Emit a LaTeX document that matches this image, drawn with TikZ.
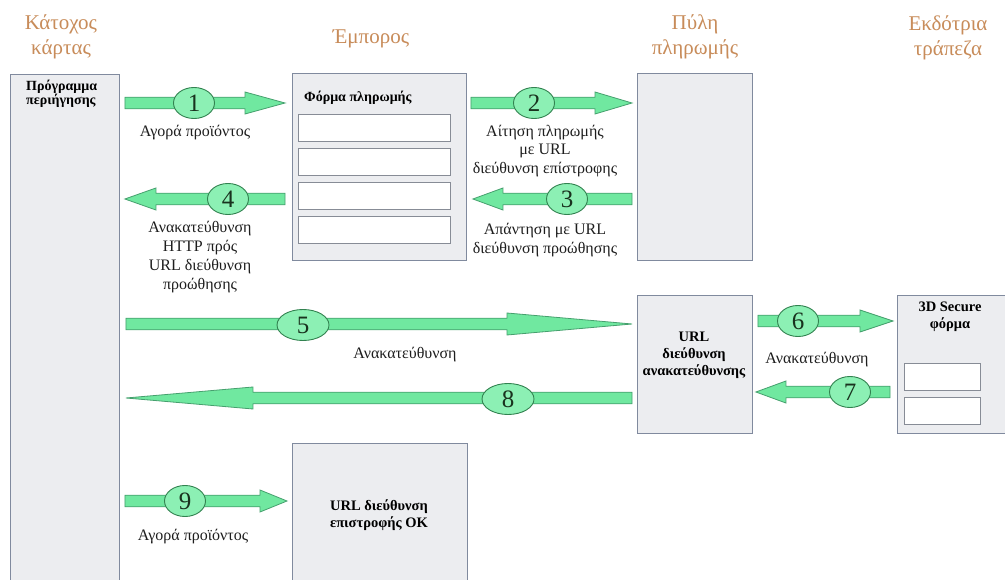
\documentclass[tikz,border=0pt]{standalone}
\usepackage{fontspec}
\setmainfont{Liberation Serif}
\usetikzlibrary{calc,shapes.geometric}

\definecolor{titlecol}{RGB}{200,140,90}
\definecolor{boxfill}{RGB}{236,237,240}
\definecolor{boxline}{RGB}{128,138,158}
\definecolor{fieldline}{RGB}{135,140,150}
\definecolor{flowfill}{RGB}{112,232,160}
\definecolor{flowline}{RGB}{70,160,110}
\definecolor{numfill}{RGB}{140,240,180}
\definecolor{numline}{RGB}{50,130,80}
\definecolor{numtext}{RGB}{25,50,30}
\definecolor{labtext}{RGB}{30,30,30}

\tikzset{
  actor/.style={font=\fontsize{21}{24.5}\selectfont, text=titlecol, align=center, inner sep=0},
  panel/.style={draw=boxline, fill=boxfill, line width=0.9pt, anchor=north west, inner sep=0},
  field/.style={draw=fieldline, fill=white, line width=0.8pt, anchor=north west, inner sep=0},
  boxtext/.style={font=\bfseries\fontsize{14.5}{17}\selectfont, align=center, inner sep=0},
  steptext/.style={font=\fontsize{16}{18.8}\selectfont, text=labtext, align=center, inner sep=0},
  flow/.style={fill=flowfill, draw=flowline, line width=0.8pt, line join=miter},
  num/.style={ellipse, draw=numline, fill=numfill, line width=0.9pt, inner sep=0,
    minimum width=41pt, minimum height=31pt, text=numtext, font=\fontsize{25}{25}\selectfont},
  numwide/.style={num, minimum width=52pt, minimum height=31pt}
}

% block arrow from #1 to #2 with a head of length #3
\newcommand{\flowarrow}[3]{%
  \draw[flow] ($(#1)+(0,-5.8)$) -- ($(#2)!#3pt!(#1)+(0,-5.8)$)
    -- ($(#2)!#3pt!(#1)+(0,-11)$) -- (#2)
    -- ($(#2)!#3pt!(#1)+(0,11)$) -- ($(#2)!#3pt!(#1)+(0,5.8)$)
    -- ($(#1)+(0,5.8)$) -- cycle;}

\begin{document}
\begin{tikzpicture}[x=1pt,y=-1pt]
\useasboundingbox (0,0) rectangle (1005,580);
\clip (0,0) rectangle (1005,580);
\fill[white] (0,0) rectangle (1005,580);

% actors
\node[actor] (tcard) at (61,37) {Κάτοχος\\κάρτας};
\node[actor] (tmerch) at (371,39) {Έμπορος};
\node[actor] (tgate) at (695,37) {Πύλη\\πληρωμής};
\node[actor] (tbank) at (948,38) {Εκδότρια\\τράπεζα};

% panels
\node[panel, minimum width=109pt, minimum height=530pt] (browser) at (10,74) {};
\node[panel, minimum width=174pt, minimum height=187pt] (merchant) at (292,73) {};
\node[panel, minimum width=115pt, minimum height=187pt] (gateway) at (637,73) {};
\node[panel, minimum width=115pt, minimum height=138pt] (redirect) at (637,295) {};
\node[panel, minimum width=120pt, minimum height=138pt] (secure) at (897,295) {};
\node[panel, minimum width=175pt, minimum height=150pt] (okpage) at (292,443) {};

% form fields
\node[field, minimum width=152pt, minimum height=27pt] (f1) at (298,114) {};
\node[field, minimum width=152pt, minimum height=27pt] (f2) at (298,148) {};
\node[field, minimum width=152pt, minimum height=27pt] (f3) at (298,182) {};
\node[field, minimum width=152pt, minimum height=27pt] (f4) at (298,216) {};
\node[field, minimum width=76pt, minimum height=27pt] (s1) at (904,363) {};
\node[field, minimum width=76pt, minimum height=27pt] (s2) at (904,397) {};

% panel captions
\node[boxtext, font=\bfseries\fontsize{14}{13.5}\selectfont, align=left, anchor=north west] (cbrowser) at (26,80) {Πρόγραμμα\\περιήγησης};
\node[boxtext, font=\bfseries\fontsize{14}{17}\selectfont, anchor=west] (cform) at (304,98) {Φόρμα πληρωμής};
\node[boxtext] (credirect) at (694,355) {URL\\διεύθυνση\\ανακατεύθυνσης};
\node[boxtext] (csecure) at (950,317) {3D Secure\\φόρμα};
\node[boxtext] (cok) at (379,515) {URL διεύθυνση\\επιστροφής OK};

% arrow end points
\path (browser.east |- 0,103) ++(5,0) coordinate (a1s);
\path (merchant.west |- 0,103) ++(-7,0) coordinate (a1e);
\path (merchant.east |- 0,103) ++(4,0) coordinate (a2s);
\path (gateway.west |- 0,103) ++(-5,0) coordinate (a2e);
\path (gateway.west |- 0,199) ++(-5,0) coordinate (a3s);
\path (merchant.east |- 0,199) ++(6,0) coordinate (a3e);
\path (merchant.west |- 0,199) ++(-7,0) coordinate (a4s);
\path (browser.east |- 0,199) ++(5,0) coordinate (a4e);
\path (browser.east |- 0,324) ++(6,0) coordinate (a5s);
\path (redirect.west |- 0,324) ++(-5,0) coordinate (a5e);
\path (redirect.east |- 0,321) ++(5,0) coordinate (a6s);
\path (secure.west |- 0,321) ++(-4,0) coordinate (a6e);
\path (secure.west |- 0,392) ++(-7,0) coordinate (a7s);
\path (redirect.east |- 0,392) ++(3,0) coordinate (a7e);
\path (redirect.west |- 0,398) ++(-5,0) coordinate (a8s);
\path (browser.east |- 0,398) ++(6,0) coordinate (a8e);
\path (browser.east |- 0,501) ++(5,0) coordinate (a9s);
\path (okpage.west |- 0,501) ++(-5,0) coordinate (a9e);

% block arrows
\flowarrow{a1s}{a1e}{40}
\flowarrow{a2s}{a2e}{37}
\flowarrow{a3s}{a3e}{30}
\flowarrow{a4s}{a4e}{31}
\flowarrow{a5s}{a5e}{125}
\flowarrow{a6s}{a6e}{33}
\flowarrow{a7s}{a7e}{30}
\flowarrow{a8s}{a8e}{127}
\flowarrow{a9s}{a9e}{27}

% step numbers
\node[num] (n1) at (194,103) {1};
\node[num] (n2) at (534,103) {2};
\node[num] (n3) at (567,199) {3};
\node[num] (n4) at (228,199) {4};
\node[numwide] (n5) at (303,325) {5};
\node[num] (n6) at (798,321) {6};
\node[num] (n7) at (850,392) {7};
\node[numwide] (n8) at (508,399) {8};
\node[num] (n9) at (185,501) {9};

% step labels
\node[steptext] (l1) at (195,133) {Αγορά προϊόντος};
\node[steptext] (l2) at (545,151) {Αίτηση πληρωμής\\με URL\\διεύθυνση επίστροφης};
\node[steptext] (l3) at (545,240) {Απάντηση με URL\\διεύθυνση προώθησης};
\node[steptext] (l4) at (200,257) {Ανακατεύθυνση\\HTTP πρός\\URL διεύθυνση\\προώθησης};
\node[steptext] (l5) at (405,355) {Ανακατεύθυνση};
\node[steptext] (l6) at (817,360) {Ανακατεύθυνση};
\node[steptext] (l9) at (193,537) {Αγορά προϊόντος};
\end{tikzpicture}
\end{document}
